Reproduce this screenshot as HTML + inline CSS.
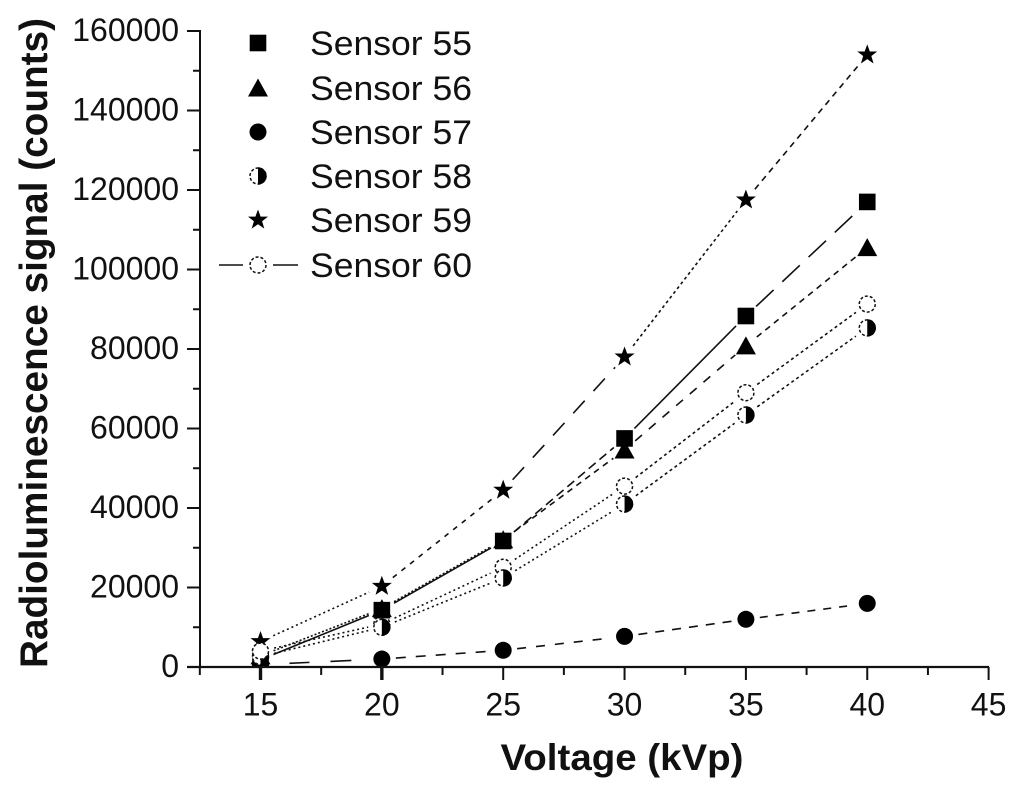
<!DOCTYPE html>
<html>
<head>
<meta charset="utf-8">
<title>Radioluminescence signal vs voltage</title>
<style>
html,body{margin:0;padding:0;background:#fff;width:1024px;height:797px;overflow:hidden}
svg{display:block}
text{font-family:"Liberation Sans",sans-serif;fill:#111}
</style>
</head>
<body>
<svg id="chart" xmlns="http://www.w3.org/2000/svg" width="1024" height="797" viewBox="0 0 1024 797">
<defs><clipPath id="plot-clip"><rect x="190" y="0" width="834" height="667"/></clipPath></defs>
<rect width="1024" height="797" fill="#fff"/>
<text x="622" y="770" text-anchor="middle" font-size="37" font-weight="700" textLength="243" lengthAdjust="spacingAndGlyphs">Voltage (kVp)</text>
<text transform="translate(47,343) rotate(-90)" text-anchor="middle" font-size="39" font-weight="700" textLength="650" lengthAdjust="spacingAndGlyphs">Radioluminescence signal (counts)</text>
</svg>
<script>
const voltages = [15, 20, 25, 30, 35, 40];
const sensor55 = [1800, 14300, 31700, 57500, 88300, 117000];
const sensor56 = [2800, 14700, 32000, 54600, 80800, 105500];
const sensor57 = [600, 2000, 4200, 7700, 12000, 16000];
const sensor58 = [2600, 10000, 22400, 41000, 63400, 85300];
const sensor59 = [6400, 20300, 44500, 78000, 117500, 154000];
const sensor60 = [4000, 10800, 25100, 45500, 69000, 91300];
const xTickLabels = [15, 20, 25, 30, 35, 40, 45];
const yTickLabels = [0, 20000, 40000, 60000, 80000, 100000, 120000, 140000, 160000];
const legendLabels = ['Sensor 55', 'Sensor 56', 'Sensor 57', 'Sensor 58', 'Sensor 59', 'Sensor 60'];

const svg = document.getElementById('chart');
const NS = 'http://www.w3.org/2000/svg';
const xAxis = v => 260.5 + (v - 15) * 24.27;
const yAxis = v => 667 - v * 636 / 160000;

function make(tag, attrs, parent) {
  const el = document.createElementNS(NS, tag);
  for (const k in attrs) el.setAttribute(k, attrs[k]);
  (parent || svg).appendChild(el);
  return el;
}
function seg(x1, y1, x2, y2, w, name, parent, dash) {
  const el = make('line', {x1: x1, y1: y1, x2: x2, y2: y2, stroke: '#111', 'stroke-width': w}, parent);
  if (dash) el.setAttribute('stroke-dasharray', dash);
  
  
  return el;
}

/* marker glyphs */
function marker(kind, cx, cy, name, parent) {
  const g = make('g', {transform: 'translate(' + cx + ',' + cy + ')'}, parent);
  
  
  if (kind === 'square') make('rect', {x: -8.3, y: -8.3, width: 16.6, height: 16.6, fill: '#000'}, g);
  if (kind === 'triangle') make('polygon', {points: '0,-9.5 10,8.5 -10,8.5', fill: '#000'}, g);
  if (kind === 'circle') make('circle', {r: 8.5, fill: '#000'}, g);
  if (kind === 'half') {
    make('circle', {r: 8, fill: '#fff', stroke: '#111', 'stroke-width': 1.5, 'stroke-dasharray': '3 2'}, g);
    make('path', {d: 'M0,-8.7A8.7,8.7 0 0 1 0,8.7Z', fill: '#000'}, g);
  }
  if (kind === 'star') {
    make('polygon', {points: '0,-10.5 2.6,-3.4 10,-3.4 4.1,1.2 6.3,8.6 0,4.3 -6.3,8.6 -4.1,1.2 -10,-3.4 -2.6,-3.4', fill: '#000'}, g);
  }
  if (kind === 'open') make('circle', {r: 8, fill: '#fff', stroke: '#111', 'stroke-width': 1.5, 'stroke-dasharray': '3 2'}, g);
  return g;
}

/* series, one line style per segment */
const seriesList = [
  {id: 55, vals: sensor55, kind: 'square', dash: ['', '', '9 5', '', '24 12']},
  {id: 56, vals: sensor56, kind: 'triangle', dash: ['2 2', '2 2', '6 5', '9 9', '6 5']},
  {id: 57, vals: sensor57, kind: 'circle', dash: ['0 15 20 21 21 60', '10 10', '9 10', '9 8', '8 8']},
  {id: 58, vals: sensor58, kind: 'half', dash: ['2 3', '2 3', '2 3', '3 3', '3 3']},
  {id: 59, vals: sensor59, kind: 'star', dash: ['2 3', '5 6', '17 13', '3 3', '6 5']},
  {id: 60, vals: sensor60, kind: 'open', dash: ['2 3', '2 3', '2 3', '3 3', '3 3']}
];
seriesList.forEach(function (s) {
  for (let i = 0; i < s.vals.length - 1; i++) {
    const x1 = xAxis(voltages[i]), y1 = yAxis(s.vals[i]);
    const x2 = xAxis(voltages[i + 1]), y2 = yAxis(s.vals[i + 1]);
    const len = Math.hypot(x2 - x1, y2 - y1);
    const ux = (x2 - x1) / len, uy = (y2 - y1) / len;
    seg(x1 + ux * 14, y1 + uy * 14, x2 - ux * 14, y2 - uy * 14, 1.6,
        'sensor-' + s.id + '-line-segment-' + (i + 1), svg, s.dash[i]);
  }
});
const markerLayer = make('g', {'clip-path': 'url(#plot-clip)'});


voltages.forEach(function (v, i) {
  const order = i === 0 ? [0, 1, 2, 3, 4, 5] : [5, 3, 4, 1, 2, 0];
  order.forEach(function (k) {
    const s = seriesList[k];
    marker(s.kind, xAxis(v), yAxis(s.vals[i]), 'sensor-' + s.id + '-point-' + v + 'kvp', markerLayer);
  });
});

/* axes */
seg(200, yAxis(160000) - 1, 200, 668, 2, 'y-axis-line');
seg(187, 667, 989, 667, 2.2, 'x-axis-line');

xTickLabels.forEach(function (v) {
  seg(xAxis(v), 667, xAxis(v), 680, v <= 20 ? 3.4 : 2, 'x-major-tick-' + v);
  const t = make('text', {x: xAxis(v), y: 715.5, 'text-anchor': 'middle', 'font-size': 32});
  t.textContent = v;
  
  
});
[12.5, 17.5, 22.5, 27.5, 32.5, 37.5, 42.5].forEach(function (v) {
  seg(xAxis(v), 667, xAxis(v), 675, 2, 'x-minor-tick-' + v);
});
yTickLabels.forEach(function (v, i) {
  seg(187, yAxis(v), 200, yAxis(v), 2, 'y-major-tick-' + v);
  const t = make('text', {x: 179, y: yAxis(v) + 10, 'text-anchor': 'end', 'font-size': 32});
  t.textContent = v;
  
  
  if (i < yTickLabels.length - 1) {
    seg(193, yAxis(v + 10000), 200, yAxis(v + 10000), 2, 'y-minor-tick-' + (v + 10000));
  }
});

/* legend */
const legendY = [43, 88, 132, 176, 220, 265];
legendLabels.forEach(function (label, i) {
  marker(seriesList[i].kind, 258, legendY[i], 'legend-marker-' + seriesList[i].id);
  const t = make('text', {x: 310, y: legendY[i] + 12, 'font-size': 34, textLength: 162, lengthAdjust: 'spacingAndGlyphs'});
  t.textContent = label;
  
  
});
seg(219, 265, 243, 265, 1.6, 'legend-line-60-left');
seg(273, 265, 298, 265, 1.6, 'legend-line-60-right');
</script>
</body>
</html>
